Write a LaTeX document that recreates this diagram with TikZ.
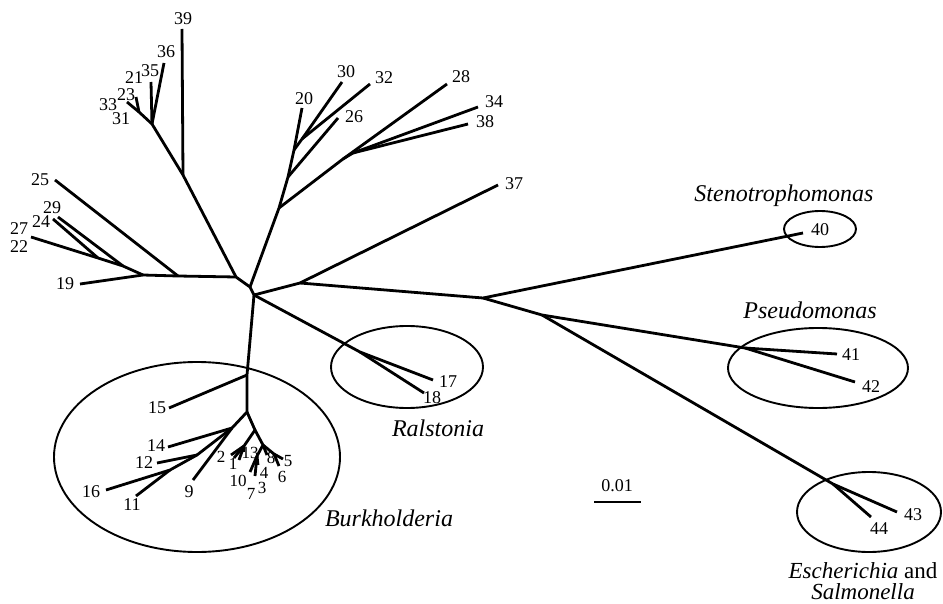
\documentclass[tikz,border=0pt]{standalone}
\usepackage{fontspec}
\setmainfont{Liberation Serif}
\begin{document}
\begin{tikzpicture}[x=1pt,y=-1pt,
  br/.style={line width=2.8pt, line join=round},
  clade/.style={line width=1.9pt},
  lf/.style={inner sep=0pt, font=\fontsize{18}{18}\selectfont},
  sf/.style={inner sep=0pt, font=\fontsize{17}{17}\selectfont},
  gn/.style={inner sep=0pt, font=\fontsize{24}{24}\selectfont\itshape}]
\useasboundingbox (0,0) rectangle (943,604);
% hub
\coordinate (h1) at (236,277);
\coordinate (h2) at (250,287);
\coordinate (h3) at (254,295);
% left group
\coordinate (n25) at (178,276);
\coordinate (n19) at (143,275);
\coordinate (n29) at (123,266);
\coordinate (n24) at (98,258);
\coordinate (t25) at (55,180);
\coordinate (t19) at (80,284);
\coordinate (t29) at (58,217);
\coordinate (t24) at (53,219);
\coordinate (t22) at (31,237);
% top-left group
\coordinate (n39) at (183,175);
\coordinate (n35) at (152,124);
\coordinate (n21) at (139,112);
\coordinate (t39) at (182,29);
\coordinate (t35) at (151,82);
\coordinate (t36) at (164,63);
\coordinate (t21) at (136,97);
\coordinate (t33) at (127,102);
% top-middle group
\coordinate (a) at (279,208);
\coordinate (b) at (288,177);
\coordinate (c) at (294,150);
\coordinate (d) at (302,139);
\coordinate (t20) at (302,108);
\coordinate (t30) at (342,82);
\coordinate (t32) at (370,84);
\coordinate (t26) at (338,118);
\coordinate (n28) at (343,159);
\coordinate (n34) at (353,153);
\coordinate (t28) at (447,84);
\coordinate (t34) at (478,107);
\coordinate (t38) at (468,124);
% right group
\coordinate (n37) at (300,283);
\coordinate (t37) at (498,185);
\coordinate (n40) at (483,298);
\coordinate (t40) at (803,233);
\coordinate (nP) at (542,315);
\coordinate (nP2) at (745,348);
\coordinate (t41) at (837,354);
\coordinate (t42) at (855,382);
\coordinate (nE) at (833,484);
\coordinate (t43) at (897,512);
\coordinate (t44) at (871,517);
% Ralstonia
\coordinate (nR) at (360,352);
\coordinate (t17) at (433,380);
\coordinate (t18) at (424,393);
% Burkholderia
\coordinate (nB1) at (247,375);
\coordinate (nB2) at (247,412);
\coordinate (nB3) at (232,428);
\coordinate (nB5) at (197,455);
\coordinate (nB6) at (170,470);
\coordinate (t15) at (169,408);
\coordinate (t14) at (168,447);
\coordinate (t9) at (193,480);
\coordinate (t12) at (157,463);
\coordinate (t16) at (106,490);
\coordinate (t11) at (136,496);
\coordinate (nR0) at (255,430);
\coordinate (nR1) at (244,446);
\coordinate (t2) at (231,455);
\coordinate (t1) at (234,458);
\coordinate (t10) at (239,460);
\coordinate (t13) at (244,452);
\coordinate (nR2) at (263,445);
\coordinate (nR3) at (257,456);
\coordinate (t7) at (250,472);
\coordinate (t4) at (258,465);
\coordinate (t3) at (255,476);
\coordinate (t8) at (267,455);
\coordinate (nR4) at (274,454);
\coordinate (t5) at (283,459);
\coordinate (t6) at (279,466);
% scale bar
\coordinate (sb1) at (594,502);
\coordinate (sb2) at (641,502);

% branches
\draw[br] (n19) -- (n25) -- (h1) -- (h2) -- (h3);
\draw[br] (n25) -- (t25);
\draw[br] (n19) -- (t19);
\draw[br] (n19) -- (n29) -- (n24) -- (t22);
\draw[br] (n29) -- (t29);
\draw[br] (n24) -- (t24);
\draw[br] (h1) -- (n39) -- (n35) -- (n21) -- (t21);
\draw[br] (n39) -- (t39);
\draw[br] (n35) -- (t35);
\draw[br] (n35) -- (t36);
\draw[br] (n21) -- (t33);
\draw[br] (h2) -- (a) -- (b) -- (c) -- (t20);
\draw[br] (c) -- (d) -- (t30);
\draw[br] (d) -- (t32);
\draw[br] (b) -- (t26);
\draw[br] (a) -- (n28) -- (t28);
\draw[br] (n28) -- (n34) -- (t34);
\draw[br] (n34) -- (t38);
\draw[br] (h3) -- (n37) -- (t37);
\draw[br] (n37) -- (n40) -- (t40);
\draw[br] (n40) -- (nP) -- (nP2) -- (t41);
\draw[br] (nP2) -- (t42);
\draw[br] (nP) -- (nE) -- (t43);
\draw[br] (nE) -- (t44);
\draw[br] (h3) -- (nR) -- (t17);
\draw[br] (nR) -- (t18);
\draw[br] (h3) -- (nB1) -- (nB2) -- (nB3) -- (nB5) -- (nB6) -- (t16);
\draw[br] (nB6) -- (t11);
\draw[br] (nB5) -- (t12);
\draw[br] (nB3) -- (t14);
\draw[br] (nB3) -- (t9);
\draw[br] (nB1) -- (t15);
\draw[br] (nB2) -- (nR0) -- (nR1) -- (t2);
\draw[br] (nR1) -- (t1);
\draw[br] (nR1) -- (t10);
\draw[br] (nR1) -- (t13);
\draw[br] (nR0) -- (nR2) -- (nR3) -- (t7);
\draw[br] (nR3) -- (t4);
\draw[br] (nR3) -- (t3);
\draw[br] (nR2) -- (t8);
\draw[br] (nR2) -- (nR4) -- (t5);
\draw[br] (nR4) -- (t6);

% clade ellipses
\draw[clade] (197,457) ellipse [x radius=143pt, y radius=95pt];
\draw[clade] (407,367) ellipse [x radius=76pt, y radius=41pt];
\draw[clade] (820,229) ellipse [x radius=36pt, y radius=18pt];
\draw[clade] (818,368) ellipse [x radius=90pt, y radius=40pt];
\draw[clade] (869,512) ellipse [x radius=72pt, y radius=40pt];

% scale bar
\draw[clade] (sb1) -- (sb2);
\node[lf] (lsb) at (617,486) {0.01};

% leaf labels
\node[lf] (l39) at (183,19) {39};
\node[lf] (l36) at (166,52) {36};
\node[lf] (l35) at (150,71) {35};
\node[lf] (l21) at (134,78) {21};
\node[lf] (l23) at (126,95) {23};
\node[lf] (l33) at (108,105) {33};
\node[lf] (l31) at (121,119) {31};
\node[lf] (l25) at (40,180) {25};
\node[lf] (l29) at (52,208) {29};
\node[lf] (l24) at (41,222) {24};
\node[lf] (l27) at (19,229) {27};
\node[lf] (l22) at (19,247) {22};
\node[lf] (l19) at (65,284) {19};
\node[lf] (l20) at (304,99) {20};
\node[lf] (l30) at (346,72) {30};
\node[lf] (l32) at (384,78) {32};
\node[lf] (l26) at (354,117) {26};
\node[lf] (l28) at (461,77) {28};
\node[lf] (l34) at (494,102) {34};
\node[lf] (l38) at (485,122) {38};
\node[lf] (l37) at (514,184) {37};
\node[lf] (l40) at (820,230) {40};
\node[lf] (l41) at (851,355) {41};
\node[lf] (l42) at (871,387) {42};
\node[lf] (l43) at (913,515) {43};
\node[lf] (l44) at (879,529) {44};
\node[lf] (l17) at (448,382) {17};
\node[lf] (l18) at (432,398) {18};
\node[lf] (l15) at (157,408) {15};
\node[lf] (l14) at (156,446) {14};
\node[lf] (l12) at (144,463) {12};
\node[lf] (l16) at (91,492) {16};
\node[lf] (l11) at (132,505) {11};
\node[lf] (l9) at (189,492) {9};
\node[sf] (l2) at (221,457) {2};
\node[sf] (l1) at (233,464) {1};
\node[sf] (l10) at (238,481) {10};
\node[sf] (l13) at (250,453) {13};
\node[sf] (l7) at (251,494) {7};
\node[sf] (l3) at (262,488) {3};
\node[sf] (l4) at (264,473) {4};
\node[sf] (l8) at (271,458) {8};
\node[sf] (l5) at (288,461) {5};
\node[sf] (l6) at (282,477) {6};

% group names
\node[gn] (gSt) at (784,196) {Stenotrophomonas};
\node[gn] (gPs) at (810,310) {Pseudomonas};
\node[gn] (gRa) at (438,428) {Ralstonia};
\node[gn] (gBu) at (389,518) {Burkholderia};
\node[gn, anchor=base, font=\fontsize{23}{23}\selectfont\itshape] (gEs) at (863,578) {Escherichia \upshape and};
\node[gn, anchor=base, font=\fontsize{23}{23}\selectfont\itshape] (gSa) at (863,599) {Salmonella};
\end{tikzpicture}
\end{document}
